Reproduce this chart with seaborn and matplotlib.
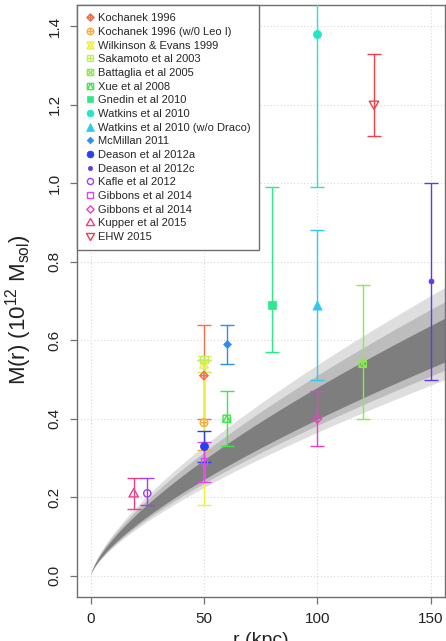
import numpy as np
import pandas as pd
import matplotlib
matplotlib.use("Agg")
import matplotlib.pyplot as plt
from matplotlib.path import Path
from matplotlib.lines import Line2D
import seaborn as sns

# ---------------- data ----------------
studies = ["Kochanek 1996", "Kochanek 1996 (w/0 Leo I)", "Wilkinson & Evans 1999",
           "Sakamoto et al 2003", "Battaglia et al 2005", "Xue et al 2008",
           "Gnedin et al 2010", "Watkins et al 2010", "Watkins et al 2010 (w/o Draco)",
           "McMillan 2011", "Deason et al 2012a", "Deason et al 2012c",
           "Kafle et al 2012", "Gibbons et al 2014", "Gibbons et al 2014",
           "Kupper et al 2015", "EHW 2015"]
r_kpc = [50, 50, 50, 50, 120, 60, 80, 100, 100, 60, 50, 150, 25, 50, 100, 19, 125]
mass = [0.51, 0.39, 0.54, 0.55, 0.54, 0.40, 0.69, 1.38, 0.69, 0.59, 0.33, 0.75,
        0.21, 0.29, 0.40, 0.21, 1.20]
mass_lo = [0.40, 0.32, 0.18, 0.52, 0.40, 0.33, 0.57, 0.99, 0.50, 0.54, 0.29, 0.50,
           0.18, 0.24, 0.33, 0.17, 1.12]
mass_hi = [0.64, 0.55, 0.56, 0.55, 0.74, 0.47, 0.99, 1.77, 0.88, 0.64, 0.37, 1.00,
           0.25, 0.34, 0.47, 0.25, 1.33]

# model band: M(r) = band_m_ref * (r / band_r_ref) ** band_slope, credible regions as factors
band_r_ref = 150.0
band_m_ref = 0.585
band_slope = 0.70
band_lo = [0.83, 0.87, 0.905]
band_hi = [1.22, 1.16, 1.09]

x_ticks = [0, 50, 100, 150]
y_ticks = [0.0, 0.2, 0.4, 0.6, 0.8, 1.0, 1.2, 1.4]

# ---------------- styles ----------------
colors = ["#F4704A", "#F5AE3C", "#EFEF3E", "#C2EE5E", "#86EE4A", "#3FE84A",
          "#2EE88C", "#22E6C4", "#2EC8F0", "#2E8CF2", "#2A3EF2", "#6436EE",
          "#A040EE", "#E045EE", "#EE3EC4", "#EE3E84", "#EE4048"]
band_colors = ["#DEDEDE", "#BDBDBD", "#7E7E7E"]


def poly(pts):
    verts = list(pts) + [pts[0]]
    codes = [Path.MOVETO] + [Path.LINETO] * (len(pts) - 1) + [Path.CLOSEPOLY]
    return Path(verts, codes)


def segs(pairs):
    verts, codes = [], []
    for a, b in pairs:
        verts += [a, b]
        codes += [Path.MOVETO, Path.LINETO]
    return Path(verts, codes)


circle = Path.unit_circle()
diamond = poly([(0, 1), (1, 0), (0, -1), (-1, 0)])
square = poly([(-1, -1), (1, -1), (1, 1), (-1, 1)])
plus = segs([((-1, 0), (1, 0)), ((0, -1), (0, 1))])
xcross = segs([((-1, -1), (1, 1)), ((-1, 1), (1, -1))])
tri_up = poly([(-1, -0.75), (1, -0.75), (0, 1)])
tri_dn = poly([(-1, 0.75), (1, 0.75), (0, -1)])
hourglass = Path.make_compound_path(poly([(-1, -1), (1, -1), (0, 0.8)]),
                                    poly([(-1, 1), (1, 1), (0, -0.8)]))
sq_tri = Path.make_compound_path(square, segs([((-1, -1), (0, 1)), ((0, 1), (1, -1))]))

markers = [Path.make_compound_path(diamond, plus),
           Path.make_compound_path(circle, plus),
           hourglass,
           Path.make_compound_path(square, plus),
           Path.make_compound_path(square, xcross),
           sq_tri,
           "s", "o", "^", "D", "o", "o",
           circle, square, diamond, tri_up, tri_dn]
filled = [False] * 6 + [True] * 6 + [False] * 5
msize = [6.0, 5.5, 6.0, 5.2, 5.2, 5.2, 5.2, 5.8, 6.6, 4.0, 5.8, 3.6,
         5.2, 5.0, 6.2, 6.8, 6.8]

# ---------------- figure ----------------
sns.set_style("white")
plt.rcParams["font.family"] = ["Liberation Sans", "DejaVu Sans"]
plt.rcParams["mathtext.fontset"] = "custom"
plt.rcParams["mathtext.rm"] = "Liberation Sans"
plt.rcParams["mathtext.it"] = "Liberation Sans:italic"

fig = plt.figure(figsize=(4.46, 6.41), dpi=100)
ax = fig.add_axes([77 / 446, 44 / 641, 368 / 446, 592 / 641])

ax.set_xlim(-6.0, 156.3)
ax.set_ylim(-0.054, 1.454)

# grid
for xv in x_ticks:
    ax.axvline(xv, color="#D8D8D8", lw=0.8, ls=(0, (1, 2)), zorder=0)
for yv in y_ticks:
    ax.axhline(yv, color="#D8D8D8", lw=0.8, ls=(0, (1, 2)), zorder=0)

# band
rr = np.linspace(0, 160, 600)
center = band_m_ref * (rr / band_r_ref) ** band_slope
for lo, hi, c in zip(band_lo, band_hi, band_colors):
    ax.fill_between(rr, center * lo, center * hi, color=c, lw=0, zorder=1)

# error bars and points
df = pd.DataFrame({"study": studies, "r": r_kpc, "M": mass, "lo": mass_lo, "hi": mass_hi})
for i, row in df.iterrows():
    col = colors[i]
    ax.errorbar([row.r], [row.M], yerr=[[row.M - row.lo], [row.hi - row.M]],
                fmt="none", ecolor=col, elinewidth=1.0, capsize=5, capthick=1.0, zorder=3)
    sub = df.iloc[[i]]
    if filled[i]:
        sns.scatterplot(data=sub, x="r", y="M", marker=markers[i], s=msize[i] ** 2,
                        color=col, edgecolor=col, linewidth=0.5, ax=ax, zorder=4,
                        legend=False)
    else:
        sns.scatterplot(data=sub, x="r", y="M", marker=markers[i], s=msize[i] ** 2,
                        facecolor="none", edgecolor=col, linewidth=1.0, ax=ax, zorder=4,
                        legend=False)

# axes styling
for s in ax.spines.values():
    s.set_visible(True)
    s.set_color("#707070")
    s.set_linewidth(1.0)
ax.set_xticks(x_ticks)
ax.set_xticklabels([str(v) for v in x_ticks])
ax.set_yticks(y_ticks)
ax.set_yticklabels([f"{v:.1f}" for v in y_ticks], rotation=90, va="center")
ax.tick_params(axis="both", direction="out", length=5, width=0.9, color="#707070",
               labelsize=11, labelcolor="#222222", bottom=True, left=True)
ax.tick_params(axis="y", pad=6)
ax.tick_params(axis="x", pad=6)
ax.set_xlabel("")
ax.set_ylabel("")

fig.text(19 / 446, 1 - 310 / 641, r"M(r) (10$^{12}$ M$_{\mathrm{sol}}$)", rotation=90,
         ha="center", va="center", fontsize=16, color="#222222")
fig.text(261 / 446, 1 - 632 / 641, "r (kpc)", ha="center", va="top", fontsize=14,
         color="#222222")

# legend
handles = []
for i in range(len(studies)):
    if filled[i]:
        h = Line2D([], [], ls="none", marker=markers[i], markersize=msize[i] * 0.85,
                   mfc=colors[i], mec=colors[i], mew=0.5)
    else:
        h = Line2D([], [], ls="none", marker=markers[i], markersize=msize[i] * 0.85,
                   mfc="none", mec=colors[i], mew=1.0)
    handles.append(h)
leg = ax.legend(handles, studies, loc="upper left", fontsize=8, frameon=True,
                fancybox=False, borderaxespad=0, labelspacing=0.33, handlelength=0.8,
                handletextpad=0.35, borderpad=0.75, framealpha=1)
leg.get_frame().set_edgecolor("#707070")
leg.get_frame().set_linewidth(1.0)
leg.set_zorder(10)

fig.savefig("out.png", dpi=100)
